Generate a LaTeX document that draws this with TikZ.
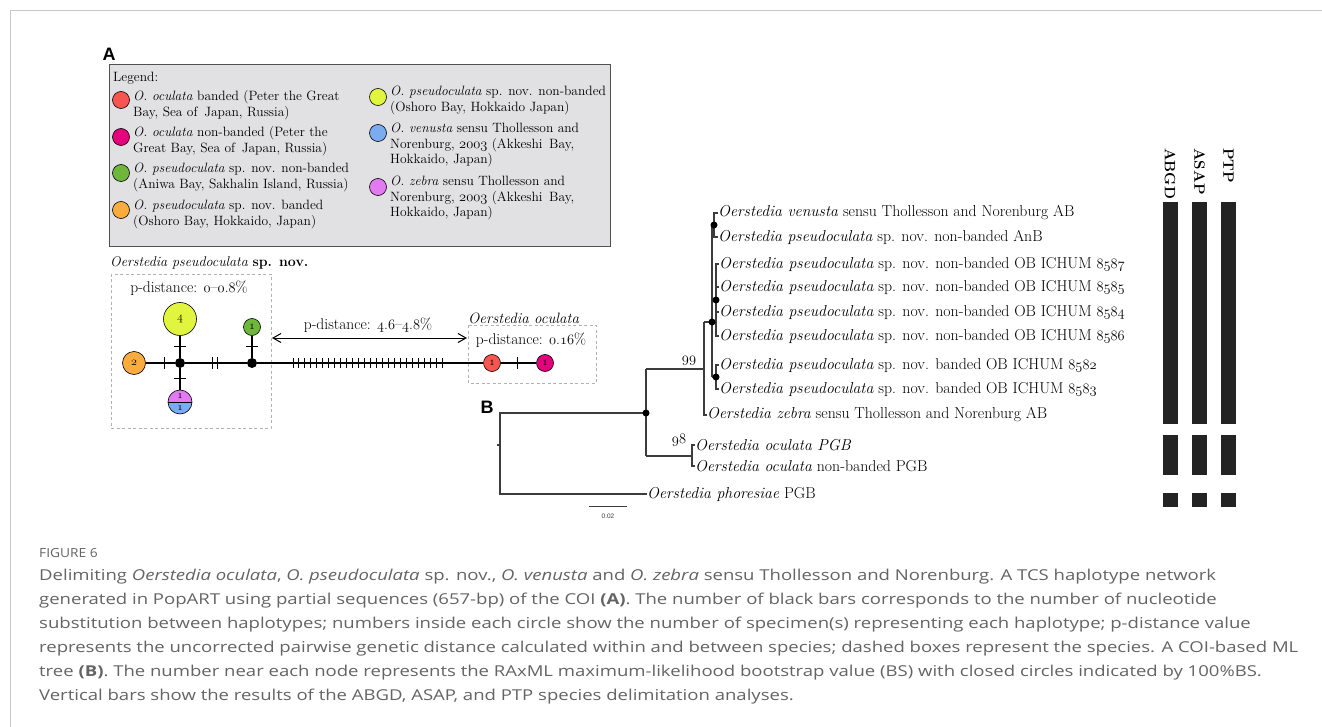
\documentclass[tikz,border=0pt]{standalone}
\usepackage{fontspec}
\newfontfamily\capfont{Open Sans}
\newfontfamily\panfont{Liberation Sans}
\usetikzlibrary{arrows.meta}
\definecolor{cRed}{RGB}{249,85,80}
\definecolor{cMag}{RGB}{229,0,125}
\definecolor{cGreen}{RGB}{110,182,60}
\definecolor{cOrange}{RGB}{250,172,62}
\definecolor{cYel}{RGB}{226,245,62}
\definecolor{cBlue}{RGB}{122,172,242}
\definecolor{cViol}{RGB}{226,122,242}
\definecolor{legfill}{RGB}{225,225,227}
\definecolor{legline}{RGB}{80,80,80}
\definecolor{capgray}{RGB}{100,100,100}
\definecolor{framegray}{RGB}{200,200,200}
\definecolor{bargray}{RGB}{35,35,35}
\definecolor{treegray}{RGB}{60,60,60}
\newcommand\on[1]{{\usefont{OML}{cmm}{m}{it}#1}}
\newcommand\capline[1]{\scalebox{1.235}[1]{#1}}
\tikzset{
 legtxt/.style={anchor=base west, inner sep=0pt, font=\fontsize{13.5}{15.5}\selectfont},
 legdot/.style={circle, draw=black, line width=0.6pt, minimum size=17pt, inner sep=0pt},
 hap/.style={circle, draw=black, line width=0.6pt, inner sep=0pt, font=\fontsize{12}{12}\selectfont},
 junc/.style={circle, fill=black, minimum size=10pt, inner sep=0pt},
 netedge/.style={line width=1.3pt},
 tickmark/.style={line width=1pt},
 netlab/.style={inner sep=0pt, font=\fontsize{15.5}{17}\selectfont},
 treeline/.style={line width=1.1pt, draw=treegray},
 leaf/.style={anchor=west, inner sep=0pt, font=\fontsize{15.8}{17}\selectfont},
 tdot/.style={circle, fill=black, minimum size=7pt, inner sep=0pt},
 bsval/.style={inner sep=0pt, font=\fontsize{14}{14}\selectfont},
 dbox/.style={draw=black!30, line width=0.8pt, dash pattern=on 3pt off 2.5pt},
 barbox/.style={fill=bargray, draw=none},
 barlab/.style={rotate=-90, anchor=west, inner sep=0pt, font=\bfseries\fontsize{15}{15}\selectfont},
 captxt/.style={anchor=base west, inner sep=0pt, text=capgray, font=\capfont\fontsize{15}{16}\selectfont},
 panel/.style={inner sep=0pt, font=\panfont\bfseries\fontsize{18}{18}\selectfont},
}
\begin{document}
\begin{tikzpicture}[x=1pt,y=-1pt]
\useasboundingbox (0,0) rectangle (1322,727);
\fill[white] (0,0) rectangle (1322,727);
% frame
\draw[framegray, line width=1pt] (1322,11) -- (10,11) -- (10,727);

% panel labels
\node[panel] (pA) at (109,54) {A};
\node[panel] (pB) at (487,407) {B};

% legend box
\draw[fill=legfill, draw=legline, line width=0.8pt] (109,64) rectangle (610,246);
\node[legtxt] (lg) at (113,82) {Legend:};
\node[legdot, fill=cRed] (d1) at (121,100) {};
\node[legtxt] at (133,101) {\textit{O. oculata} banded (Peter the Great};
\node[legtxt] at (133,116.5) {Bay, Sea of\, Japan, Russia)};
\node[legdot, fill=cMag] (d2) at (121,137) {};
\node[legtxt] at (133,137) {\textit{O. oculata} non-banded (Peter the};
\node[legtxt] at (133,152.5) {Great Bay, Sea of\, Japan, Russia)};
\node[legdot, fill=cGreen] (d3) at (121,173) {};
\node[legtxt] at (133,173) {\textit{O. pseudoculata} sp. nov. non-banded};
\node[legtxt] at (133,188.5) {(Aniwa Bay, Sakhalin Island, Russia)};
\node[legdot, fill=cOrange] (d4) at (121,210) {};
\node[legtxt] at (133,210) {\textit{O. pseudoculata} sp. nov. banded};
\node[legtxt] at (133,225.5) {(Oshoro Bay, Hokkaido, Japan)};
\node[legdot, fill=cYel] (d5) at (378,97) {};
\node[legtxt] at (390,96) {\textit{O. pseudoculata} sp. nov. non-banded};
\node[legtxt] at (390,111.5) {(Oshoro Bay, Hokkaido Japan)};
\node[legdot, fill=cBlue] (d6) at (378,133) {};
\node[legtxt] at (390,133) {\textit{O. venusta} sensu Thollesson and};
\node[legtxt] at (390,148.5) {Norenburg, \on{2003} (Akkeshi\, Bay,};
\node[legtxt] at (390,164) {Hokkaido, Japan)};
\node[legdot, fill=cViol] (d7) at (378,187) {};
\node[legtxt] at (390,186) {\textit{O. zebra} sensu Thollesson and};
\node[legtxt] at (390,201.5) {Norenburg, \on{2003} (Akkeshi\, Bay,};
\node[legtxt] at (390,217) {Hokkaido, Japan)};

% haplotype network
\node[inner sep=0pt, anchor=west, font=\fontsize{14.1}{16}\selectfont] (ttl) at (110,263) {\textit{Oerstedia pseudoculata} \textbf{sp. nov.}};
\draw[dbox] (111,274) rectangle (271,428);
\node[netlab] (pd1) at (189,288) {p-distance: \on{0}--\on{0}.\on{8}\%};
\draw[dbox] (468,325) rectangle (596,383);
\node[netlab, anchor=west, font=\fontsize{15}{16}\selectfont] (ocl) at (468,318) {\textit{Oerstedia oculata}};
\node[netlab] (pd3) at (531,340) {p-distance: \on{0}.\on{16}\%};
\node[netlab] (pd2) at (368,325) {p-distance: \on{4}.\on{6}--\on{4}.\on{8}\%};
\coordinate (arL) at (272,338);
\coordinate (arR) at (467,338);
\draw[line width=1pt, {Straight Barb[length=8pt,width=9pt]}-{Straight Barb[length=8pt,width=9pt]}] (arL) -- (arR);

\node[junc] (j1) at (180,363) {};
\node[junc] (j2) at (252,363) {};
\node[hap, fill=cOrange, minimum size=23pt] (h2) at (134,363) {\on{2}};
\node[hap, fill=cYel, minimum size=33pt] (h4) at (180,319) {\on{4}};
\node[hap, fill=cGreen, minimum size=17pt] (hg) at (252,327) {\on{1}};
\node[hap, fill=cRed, minimum size=17pt] (hr) at (492,363) {\on{1}};
\node[hap, fill=cMag, minimum size=17pt] (hm) at (545,363) {\on{1}};
\fill[cViol] (168,402) arc[start angle=180, end angle=360, radius=12] -- cycle;
\fill[cBlue] (192,402) arc[start angle=0, end angle=180, radius=12] -- cycle;
\node[hap, minimum size=24pt] (hzv) at (180,402) {};
\draw[line width=0.6pt] (hzv.west) -- (hzv.east);
\node[inner sep=0pt, font=\fontsize{11}{11}\selectfont] at (180,396) {\on{1}};
\node[inner sep=0pt, font=\fontsize{11}{11}\selectfont] at (180,408) {\on{1}};

\draw[netedge] (h2) -- (j1) -- (j2) -- (hr) -- (hm);
\draw[netedge] (j1) -- (h4);
\draw[netedge] (j1) -- (hzv);
\draw[netedge] (j2) -- (hg);
% mutation ticks
\draw[tickmark] (164,357) -- (164,369);
\draw[tickmark] (212,357) -- (212,369);
\draw[tickmark] (217,357) -- (217,369);
\draw[tickmark] (174,346) -- (186,346);
\draw[tickmark] (174,378) -- (186,378);
\draw[tickmark] (246,346) -- (258,346);
\draw[tickmark] (517,357) -- (517,369);
\foreach \i in {0,...,25} \draw[tickmark] ({293+\i*5.96},358) -- ({293+\i*5.96},368);

% tree
\node[leaf] (l1) at (718,213) {\textit{Oerstedia venusta} sensu Thollesson and Norenburg AB};
\node[leaf] (l2) at (718,237) {\textit{Oerstedia pseudoculata} sp. nov. non-banded AnB};
\node[leaf] (l3) at (719,264) {\textit{Oerstedia pseudoculata} sp. nov. non-banded OB ICHUM \on{8587}};
\node[leaf] (l4) at (719,287) {\textit{Oerstedia pseudoculata} sp. nov. non-banded OB ICHUM \on{8585}};
\node[leaf] (l5) at (719,312) {\textit{Oerstedia pseudoculata} sp. nov. non-banded OB ICHUM \on{8584}};
\node[leaf] (l6) at (719,336) {\textit{Oerstedia pseudoculata} sp. nov. non-banded OB ICHUM \on{8586}};
\node[leaf] (l7) at (719,365) {\textit{Oerstedia pseudoculata} sp. nov. banded OB ICHUM \on{8582}};
\node[leaf] (l8) at (719,389) {\textit{Oerstedia pseudoculata} sp. nov. banded OB ICHUM \on{8583}};
\node[leaf] (l9) at (707,415) {\textit{Oerstedia zebra} sensu Thollesson and Norenburg AB};
\node[leaf] (l10) at (695,445) {\textit{Oerstedia oculata PGB}};
\node[leaf] (l11) at (695,466) {\textit{Oerstedia oculata} non-banded PGB};
\node[leaf] (l12) at (647,494) {\textit{Oerstedia phoresiae} PGB};

\coordinate (root) at (500,445);
\coordinate (rs) at (497,445);
\coordinate (n1) at (646,413);
\coordinate (n2) at (704,369);
\coordinate (n3) at (712,322);
\coordinate (nv) at (714,225);
\coordinate (no) at (716,300);
\coordinate (nb) at (716,377);
\coordinate (nc) at (692,456);

\draw[treeline] (rs) -- (root);
\draw[treeline] (l12.west) -| (root) |- (n1);
\draw[treeline] (n1 |- n2) -- (n1 |- nc);
\draw[treeline] (n1 |- n2) -- (n2);
\draw[treeline] (n1 |- nc) -- (nc);
\draw[treeline] (l10.west) -| (nc) |- (l11.west);
\draw[treeline] (n2 |- n3) -- (n2 |- l9) -- (l9.west);
\draw[treeline] (n2 |- n3) -- (n3);
\draw[treeline] (n3 |- nv) -- (n3 |- nb);
\draw[treeline] (n3 |- nv) -- (nv);
\draw[treeline] (n3 |- no) -- (no);
\draw[treeline] (n3 |- nb) -- (nb);
\draw[treeline] (l1.west) -| (nv) |- (l2.west);
\draw[treeline] (l3.west) -| (no) |- (l6.west);
\draw[treeline] (no |- l4) -- (l4.west);
\draw[treeline] (no |- l5) -- (l5.west);
\draw[treeline] (l7.west) -| (nb) |- (l8.west);
\node[tdot] at (n1) {};
\node[tdot] at (n3) {};
\node[tdot] at (nv) {};
\node[tdot] at (no) {};
\node[tdot] at (nb) {};
\node[bsval] (bs99) at (689,361) {\on{99}};
\node[bsval] (bs98) at (679,440) {\on{98}};
% scale bar
\coordinate (sb1) at (589,506);
\coordinate (sb2) at (627,506);
\draw[line width=0.9pt, treegray] (sb1) -- (sb2);
\node[inner sep=0pt, font=\panfont\fontsize{6.5}{7}\selectfont, text=treegray] (sbl) at (608,516) {0.02};

% delimitation bars
\node[barlab] (bABGD) at (1170,148) {ABGD};
\node[barlab] (bASAP) at (1199.5,148) {ASAP};
\node[barlab] (bPTP) at (1228.5,148) {PTP};
\foreach \x in {1163,1192,1221} {
  \fill[barbox] (\x,202) rectangle ++(15,222);
  \fill[barbox] (\x,435) rectangle ++(15,40);
  \fill[barbox] (\x,493) rectangle ++(15,14);
}

% caption
\node[captxt, font=\capfont\fontsize{12.5}{14}\selectfont] (fig) at (39,557) {\scalebox{1.1}[1]{FIGURE 6}};
\node[captxt] (c1) at (39,580) {\capline{Delimiting \textit{Oerstedia oculata}, \textit{O. pseudoculata} sp. nov., \textit{O. venusta} and \textit{O. zebra} sensu Thollesson and Norenburg. A TCS haplotype network}};
\node[captxt] (c2) at (39,604) {\capline{generated in PopART using partial sequences (657-bp) of the COI \textbf{(A)}. The number of black bars corresponds to the number of nucleotide}};
\node[captxt] (c3) at (39,628) {\capline{substitution between haplotypes; numbers inside each circle show the number of specimen(s) representing each haplotype; p-distance value}};
\node[captxt] (c4) at (39,652) {\capline{represents the uncorrected pairwise genetic distance calculated within and between species; dashed boxes represent the species. A COI-based ML}};
\node[captxt] (c5) at (39,676) {\capline{tree \textbf{(B)}. The number near each node represents the RAxML maximum-likelihood bootstrap value (BS) with closed circles indicated by 100\%BS.}};
\node[captxt] (c6) at (39,700) {\capline{Vertical bars show the results of the ABGD, ASAP, and PTP species delimitation analyses.}};
\end{tikzpicture}
\end{document}
